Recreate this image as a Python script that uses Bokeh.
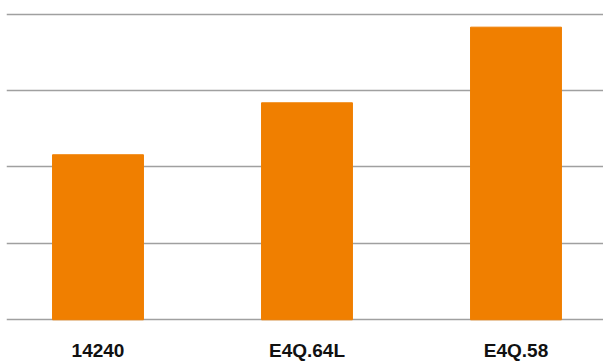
from bokeh.plotting import figure
from bokeh.models import Range1d, FixedTicker, ColumnDataSource
from bokeh.embed import file_html
from bokeh.resources import INLINE

categories = ["14240", "E4Q.64L", "E4Q.58"]
values = [2.16, 2.84, 3.83]
y_ticks = [0, 1, 2, 3, 4]

xs = list(range(len(categories)))
src = ColumnDataSource(dict(x=xs, top=values))

p = figure(width=603, height=363, output_backend="svg", toolbar_location=None,
           x_range=Range1d(-0.4378, 2.4187), y_range=Range1d(-0.0353, 4.179),
           min_border_left=6, min_border_right=0, min_border_top=0, min_border_bottom=0)
p.outline_line_color = None
p.vbar(x="x", top="top", width=0.435, source=src, color="#f07f00")

p.yaxis.visible = False
p.xgrid.grid_line_color = None
p.ygrid.ticker = FixedTicker(ticks=y_ticks)
p.ygrid.grid_line_color = "#a0a0a0"
p.ygrid.grid_line_width = 1.5
p.ygrid.level = "underlay"

p.xaxis.ticker = FixedTicker(ticks=xs)
p.xaxis.major_label_overrides = {i: c for i, c in enumerate(categories)}
p.xaxis.axis_line_color = None
p.xaxis.major_tick_line_color = None
p.xaxis.minor_tick_line_color = None
p.xaxis.major_tick_out = 0
p.xaxis.major_tick_in = 0
p.xaxis.minor_tick_out = 0
p.xaxis.minor_tick_in = 0
p.xaxis.major_label_text_font = "Liberation Sans"
p.xaxis.major_label_text_font_style = "bold"
p.xaxis.major_label_text_font_size = "19px"
p.xaxis.major_label_text_color = "#111111"
p.xaxis.major_label_standoff = 17

open("out.html", "w").write(file_html(p, INLINE))
